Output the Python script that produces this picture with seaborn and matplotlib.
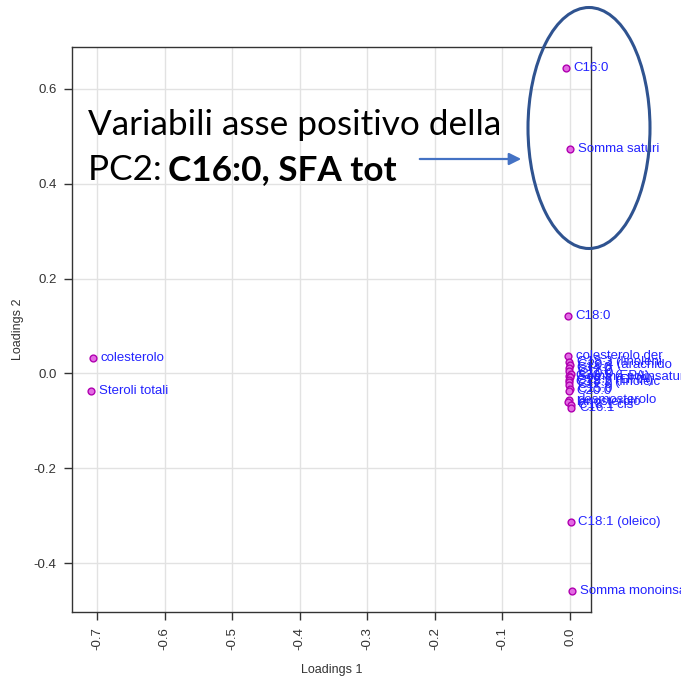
import matplotlib
matplotlib.use("Agg")
import matplotlib.pyplot as plt
from matplotlib.patches import Ellipse
import seaborn as sns
import pandas as pd

# loadings
labels = [
    "C16:0", "Somma saturi", "C18:0", "colesterolo", "Steroli totali",
    "C18:1 (oleico)", "Somma monoinsa", "colesterolo der",
    "C18:3 (linoleni", "C20:4 (arachido", "C14:0", "C12:0", "C10:0",
    "C20:5 (EPA)", "Somma polinsatur", "C22:6 (DHA)", "C18:2 (linoleic",
    "C17:0", "C15:0", "C20:0", "desmosterolo",
    "lanosterolo", "C18:1 cis", "C16:1",
]
load1 = [
    -0.006, 0.000, -0.003, -0.706, -0.709,
    0.001, 0.003, -0.003,
    -0.001, 0.000, -0.002, -0.001, 0.001,
    -0.002, 0.000, -0.001, -0.002,
    -0.001, 0.000, -0.002, -0.001,
    -0.003, 0.001, 0.002,
]
load2 = [
    0.644, 0.474, 0.122, 0.032, -0.038,
    -0.314, -0.459, 0.036,
    0.025, 0.017, 0.011, 0.004, -0.002,
    -0.005, -0.008, -0.013, -0.019,
    -0.025, -0.032, -0.038, -0.056,
    -0.060, -0.066, -0.074,
]

df = pd.DataFrame({"Loadings 1": load1, "Loadings 2": load2, "label": labels})

sns.set_theme(style="white")
plt.rcParams["font.family"] = ["Liberation Sans", "DejaVu Sans"]

fig = plt.figure(figsize=(6.81, 6.78), dpi=100)
ax = fig.add_axes([72 / 681, 1 - 612 / 678, (591 - 72) / 681, (612 - 47) / 678])

sns.scatterplot(data=df, x="Loadings 1", y="Loadings 2", ax=ax, s=24,
                color="#E36BE3", edgecolor="#B000B0", linewidth=1, zorder=3)

for _, r in df.iterrows():
    ax.annotate(r["label"], (r["Loadings 1"], r["Loadings 2"]),
                xytext=(5.5, 0), textcoords="offset points", va="center",
                ha="left", fontsize=9.5, color="#2222FF", annotation_clip=False,
                zorder=4)

ax.set_xlim(-0.737, 0.031)
ax.set_ylim(-0.503, 0.688)
ax.set_xticks([-0.7, -0.6, -0.5, -0.4, -0.3, -0.2, -0.1, 0.0])
ax.set_xticklabels(["-0.7", "-0.6", "-0.5", "-0.4", "-0.3", "-0.2", "-0.1", "0.0"],
                   rotation=90)
ax.set_yticks([-0.4, -0.2, 0.0, 0.2, 0.4, 0.6])
ax.set_yticklabels(["-0.4", "-0.2", "0.0", "0.2", "0.4", "0.6"])
ax.grid(True, color="#E2E2E2", linewidth=1)
ax.set_axisbelow(True)
for sp in ax.spines.values():
    sp.set_color("#333333")
    sp.set_linewidth(1)
ax.tick_params(axis="both", direction="out", length=6, width=1, color="#333333",
               labelsize=9.5, labelcolor="#333333", bottom=True, left=True, pad=5)
ax.set_xlabel("Loadings 1", fontsize=9, color="#333333", labelpad=10)
ax.set_ylabel("Loadings 2", fontsize=9, color="#333333", labelpad=7)

# slide annotation on top of the chart
fig.text(88 / 681, 1 - 135 / 678, "Variabili asse positivo della",
         fontsize=25.3, family="Lato", color="#000000", va="baseline")
fig.text(88 / 681, 1 - 180 / 678, "PC2: ", fontsize=25.3, family="Lato",
         color="#000000", va="baseline")
fig.text(168 / 681, 1 - 180 / 678, "C16:0, SFA tot", fontsize=25.3, family="Lato",
         weight="bold", color="#000000", va="baseline")
ax.annotate("", xy=(524, 678 - 159), xycoords="figure pixels",
            xytext=(417, 678 - 159), textcoords="figure pixels",
            arrowprops=dict(arrowstyle="-|>", color="#4472C4", lw=1.6,
                            mutation_scale=18))
fig.add_artist(Ellipse((589 / 681, 1 - 128 / 678), 122 / 681, 241 / 678,
                       transform=fig.transFigure, fill=False,
                       edgecolor="#2F5390", linewidth=2.2))

fig.savefig("out.png", dpi=100)
